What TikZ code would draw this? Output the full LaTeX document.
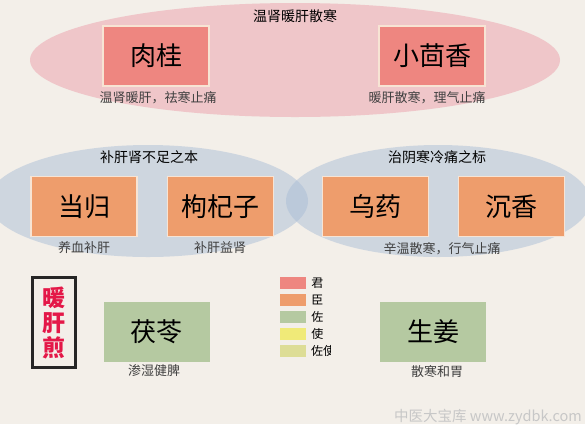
\documentclass[tikz,border=0pt]{standalone}
\usepackage{fontspec}
\setmainfont{Noto Sans CJK SC}
\definecolor{paper}{RGB}{243,239,233}
\definecolor{junred}{RGB}{238,134,128}
\definecolor{chenorange}{RGB}{238,157,108}
\definecolor{zuogreen}{RGB}{181,201,161}
\definecolor{shiyellow}{RGB}{240,234,120}
\definecolor{zuoshiolive}{RGB}{221,221,150}
\definecolor{pinkoval}{RGB}{239,198,201}
\definecolor{blueoval}{RGB}{170,190,215}
\definecolor{boxrim}{RGB}{247,228,212}
\definecolor{titlered}{RGB}{228,24,72}
\begin{document}
\begin{tikzpicture}[x=1pt,y=-1pt,
  herb/.style={minimum width=106pt,minimum height=60pt,inner sep=0pt,
    font=\fontsize{26}{28}\selectfont},
  jun/.style={herb,fill=junred,draw=boxrim,line width=1.5pt},
  chen/.style={herb,fill=chenorange,draw=boxrim,line width=1.5pt},
  zuo/.style={herb,fill=zuogreen},
  effect/.style={font=\fontsize{13}{15}\selectfont,text=black!75},
  group/.style={font=\fontsize{14}{16}\selectfont}]
\useasboundingbox (0,0) rectangle (585,424);
\fill[paper] (0,0) rectangle (585,424);

% ovals
\fill[pinkoval] (295,60) ellipse (265 and 57);
\fill[blueoval,opacity=0.5] (148,201) ellipse (160 and 56);
\fill[blueoval,opacity=0.5] (438,201) ellipse (152 and 56);

% row 1
\node [group] (t1) at (295,16) {温肾暖肝散寒};
\node [jun] (rougui) at (156,56) {肉桂};
\node [jun] (xiaohuix) at (432,56) {小茴香};
\node [effect] (e1) at (158,98) {温肾暖肝，祛寒止痛};
\node [effect] (e2) at (427,98) {暖肝散寒，理气止痛};

% row 2
\node [group] (t2) at (149,157) {补肝肾不足之本};
\node [group] (t3) at (437,157) {治阴寒冷痛之标};
\node [chen] (danggui) at (84,206.5) {当归};
\node [chen] (gouqi) at (220.5,206.5) {枸杞子};
\node [chen] (wuyao) at (375.5,206.5) {乌药};
\node [chen] (chenx) at (511.5,206.5) {沉香};
\node [effect] (e3) at (84,248) {养血补肝};
\node [effect] (e4) at (220,248) {补肝益肾};
\node [effect] (e5) at (442,249) {辛温散寒，行气止痛};

% row 3
\node [draw=black!85,line width=3pt,minimum width=43pt,minimum height=90pt,
  inner sep=0pt,text=titlered,align=center,
  font=\fontsize{23}{25}\selectfont\bfseries] (name) at (54,322.5) {暖\\肝\\煎};
\node [zuo] (fuling) at (156.5,331.5) {茯苓};
\node [zuo] (shengj) at (433,331.5) {生姜};
\node [effect] (e6) at (154,371) {渗湿健脾};
\node [effect] (e7) at (437,372) {散寒和胃};

% legend
\foreach \c/\t [count=\i] in {junred/君,chenorange/臣,zuogreen/佐,shiyellow/使}
  \node [fill=\c,minimum width=26pt,minimum height=12pt,inner sep=0pt,
    label={[font=\fontsize{12}{13}\selectfont,inner sep=0pt,xshift=5pt]right:\t}]
    (sw\i) at (293,266+17*\i) {};
\node [fill=zuoshiolive,minimum width=26pt,minimum height=12pt,inner sep=0pt]
  (sw5) at (293,351) {};
\begin{scope}
\clip (300,340) rectangle (330.5,362);
\node [font=\fontsize{12}{13}\selectfont,inner sep=0pt,anchor=west] (l5) at (311,351) {佐使};
\end{scope}

\node [text=black!22,font=\fontsize{14.5}{16}\selectfont] (mark) at (488,417) {中医大宝库 www.zydbk.com};
\end{tikzpicture}
\end{document}
